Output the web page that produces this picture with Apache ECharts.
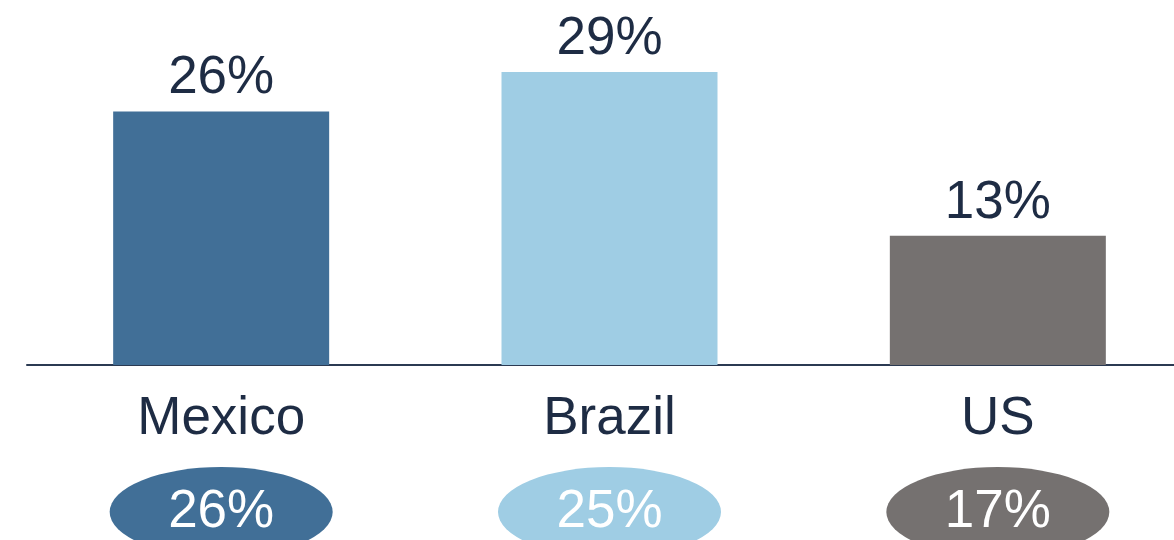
<!DOCTYPE html>
<html>
<head>
<meta charset="utf-8">
<script src="https://cdn.jsdelivr.net/npm/echarts@6/dist/echarts.min.js"></script>
<style>
  html, body { margin: 0; padding: 0; background: #fff; overflow: hidden; }
  /* the plot runs past the right edge of the picture, so the canvas is wider than the window */
  #container { width: 1192px; height: 540px; }
</style>
</head>
<body>
<div id="container"></div>
<script>
var categories = ['Mexico', 'Brazil', 'US'];
// bar heights; labels show them rounded
var barValues = [25.5, 29.45, 13.0];
var ovalValues = [26, 25, 17];
var colors = ['#416f97', '#9fcde4', '#757170'];

var dom = document.getElementById('container');
var myChart = echarts.init(dom);
var textColor = '#1e2c44';
var font = 'Liberation Sans, Arial, sans-serif';

// ellipse path, stretched to symbolSize
var ellipse = 'path://M0,50 A50,50 0 1,1 100,50 A50,50 0 1,1 0,50 Z';

var option = {
  animation: false,
  grid: [
    { left: 27, right: 0, top: 0, bottom: 175 },
    { left: 27, right: 0, top: 484, bottom: 0 }
  ],
  xAxis: [{
    type: 'category',
    gridIndex: 0,
    data: categories,
    axisLine: { lineStyle: { color: '#2b3a52', width: 2 } },
    axisTick: { show: false },
    axisLabel: {
      color: textColor,
      fontSize: 53,
      fontFamily: font,
      margin: 28
    }
  }, {
    type: 'category',
    gridIndex: 1,
    data: categories,
    show: false
  }],
  yAxis: [{
    type: 'value',
    gridIndex: 0,
    min: 0,
    max: 36.7,
    show: false
  }, {
    type: 'value',
    gridIndex: 1,
    min: 0,
    max: 2,
    show: false
  }],
  series: [{
    type: 'bar',
    xAxisIndex: 0,
    yAxisIndex: 0,
    barWidth: 216,
    data: barValues.map(function (v, i) {
      return { value: v, itemStyle: { color: colors[i] } };
    }),
    label: {
      show: true,
      position: 'top',
      distance: 6,
      color: textColor,
      fontSize: 53,
      fontFamily: font,
      formatter: function (p) {
        return Math.round(p.value) + '%';
      }
    }
  }, {
    type: 'scatter',
    xAxisIndex: 1,
    yAxisIndex: 1,
    symbol: ellipse,
    symbolSize: [223, 90],
    data: ovalValues.map(function (v, i) {
      return { value: 1, name: v + '%', itemStyle: { color: colors[i], opacity: 1 } };
    }),
    label: {
      show: true,
      position: 'inside',
      color: '#ffffff',
      fontSize: 53,
      fontFamily: font,
      formatter: '{b}'
    }
  }]
};

myChart.setOption(option);
</script>
</body>
</html>
